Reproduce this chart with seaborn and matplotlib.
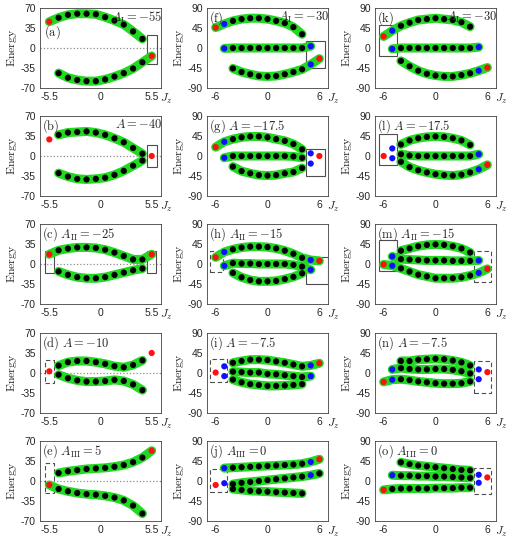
import numpy as np
import pandas as pd
import matplotlib
matplotlib.use('Agg')
import matplotlib.pyplot as plt
import seaborn as sns
from matplotlib.patches import Rectangle

sns.set_style('white')
plt.rcParams['font.family'] = ['Liberation Sans', 'DejaVu Sans']
plt.rcParams['mathtext.fontset'] = 'cm'
plt.rcParams['axes.unicode_minus'] = False

GREEN = '#22d822'
PAL = {'k': 'black', 'r': '#ff1010', 'b': '#1010ff'}

# ---- column 1 (J = 5.5) ----
a_up = [46, 53, 58, 60, 60, 59, 54, 48, 41, 29, 16]
a_lo = [-44, -52, -56, -58, -58, -55, -50, -44, -36, -25, -14]
b_up = [37, 41, 42, 43, 41, 37, 31, 24, 14, 4]
b_lo = [-30, -36, -40, -41, -40, -38, -33, -26, -17, -8]
c_up = [17, 24, 27, 29, 29, 28, 25, 20, 14, 8, 8, 17]
c_lo = [-13, -19, -23, -25, -25, -23, -19, -15, -11, -8]
d_up = [13, 19, 21, 21, 19, 16, 12, 10, 14, 22]
d_lo = [-3, -9, -13, -15, -15, -14, -12, -14, -20, -30]
e_up = [14, 17, 19, 21, 22, 23, 25, 28, 33, 41, 53]
e_lo = [-7, -14, -18, -21, -23, -24, -26, -29, -34, -43, -57]

# ---- column 2 (J = 6) ----
f_up = [46, 54, 61, 65, 67, 67, 65, 61, 56, 47, 31]
f_mid = [-1, 0, 0, 0, 0, 0, 0, 0, 0, 0, 4]
f_lo = [-46, -54, -59, -63, -64, -63, -59, -54, -48, -37, -24]
g_up = [20, 32, 38, 42, 44, 44, 42, 38, 34, 27, 15]
g_mid = [-4, 0, 0, 0, 0, 0, 0, 0, -1, -4]
g_lo = [-24, -34, -39, -43, -44, -43, -39, -36, -27]
h_up = [15, 27, 33, 37, 39, 39, 38, 35, 30, 23, 14, 9, 7]
h_mid = [-4, 2, 1, 1, 0, 0, 0, 0, -2, -6, -13]
h_lo = [-20, -30, -36, -39, -39, -38, -34, -29, -21]
i_up = [23, 27, 30, 30, 29, 26, 23, 19, 15, 17, 22]
i_mid = [3, 2, 1, 1, -2, -3, -5, -7, -9, -7]
i_lo = [-15, -21, -25, -27, -29, -29, -28, -27, -25]
j_up = [29, 30, 31, 32, 33, 34, 35, 36, 37, 39, 43, 49]
j_mid = [-7, -4, -2, 0, 2, 4, 6, 8, 10, 13, 17]
j_lo = [-18, -20, -22, -23, -24, -25, -26, -27, -28]

# ---- column 3 (J = 6) ----
k_up = [26, 39, 50, 57, 63, 65, 67, 65, 63, 58, 48]
k_mid = [-2, 0, 0, 0, 0, 0, 0, 0, 0, 0, 2]
k_lo = [-29, -41, -51, -58, -62, -64, -64, -61, -57, -51, -44]
l_up = [26, 35, 40, 43, 44, 43, 40, 35, 25]
l_mid = [4, 1, 0, 0, 0, 0, 0, 0, 0, 4]
l_lo = [-13, -25, -32, -37, -41, -43, -44, -42, -37, -30, -20]
m_up = [30, 35, 40, 43, 44, 43, 40, 35, 26]
m_mid = [17, 11, 10, 9, 8, 8, 8, 7, 7, 7, 8]
m_lo = [-1, -4, -10, -17, -24, -28, -32, -32, -32, -30, -26, -20, -11]
n_up = [27, 27, 30, 31, 32, 31, 28, 24, 17]
n_mid = [8, 11, 9, 8, 8, 9, 9, 7, 4, -1]
n_lo = [-20, -15, -14, -16, -19, -21, -23, -24, -24, -23, -19]
o_up = [42, 38, 35, 33, 31, 29, 27, 25, 24]
o_mid = [13, 12, 12, 11, 11, 10, 10, 9, 8, 7]
o_lo = [-20, -18, -17, -17, -17, -17, -16, -16, -16, -15, -15]

# panel table: (column, row, bands[(jz0, energies, colours)], loose points, boxes, left text, right text)
DASH = (0, (4, 2.5))
panels = [
    (0, 0, [(-5.5, a_up, 'r' + 'k' * 10), (-4.5, a_lo, 'k' * 10 + 'r')], [],
     [(5.0, -28, 1.05, 50, '-')], '', r'$A_{\rm I}=-55$'),
    (0, 1, [(-4.5, b_up, 'k' * 10), (-4.5, b_lo, 'k' * 10)],
     [(-5.5, 29, 'r'), (5.5, 0, 'r')], [(5.0, -20, 1.05, 40, '-')], r'$\mathrm{(b)}$', r'$A=-40$'),
    (0, 2, [(-5.5, c_up, 'r' + 'k' * 10 + 'r'), (-4.5, c_lo, 'k' * 10)], [],
     [(-6.0, -16, 1.0, 38, '-'), (5.0, -16, 1.0, 38, '-')], r'$\mathrm{(c)}\ A_{\rm II}=-25$', ''),
    (0, 3, [(-4.5, d_up, 'k' * 10), (-4.5, d_lo, 'k' * 10)],
     [(-5.5, 3, 'r'), (5.5, 35, 'r')], [(-6.0, -18, 1.0, 40, DASH)], r'$\mathrm{(d)}\ A=-10$', ''),
    (0, 4, [(-4.5, e_up, 'k' * 10 + 'r'), (-5.5, e_lo, 'r' + 'k' * 10)], [],
     [(-6.0, -21, 1.0, 52, DASH)], r'$\mathrm{(e)}\ A_{\rm III}=5$', ''),
    (1, 0, [(-6, f_up, 'rb' + 'k' * 9), (-5, f_mid, 'b' + 'k' * 9 + 'b'), (-4, f_lo, 'k' * 9 + 'br')], [],
     [(4.5, -44, 2.1, 59, '-')], r'$\mathrm{(f)}$', r'$A_{\rm I}=-30$'),
    (1, 1, [(-6, g_up, 'rb' + 'k' * 9), (-5, g_mid, 'b' + 'k' * 9), (-4, g_lo, 'k' * 9)],
     [(5, 6, 'b'), (5, -17, 'b'), (6, 0, 'r')], [(4.5, -45, 2.2, 60, '-')], r'$\mathrm{(g)}\ A=-17.5$', ''),
    (1, 2, [(-6, h_up, 'rb' + 'k' * 9 + 'br'), (-5, h_mid, 'b' + 'k' * 9 + 'b'), (-4, h_lo, 'k' * 9)], [],
     [(-6.7, -19, 1.6, 49, DASH), (4.5, -44, 2.5, 59, '-')], r'$\mathrm{(h)}\ A_{\rm II}=-15$', ''),
    (1, 3, [(-4, i_up, 'k' * 9 + 'br'), (-4, i_mid, 'k' * 9 + 'b'), (-4, i_lo, 'k' * 9)],
     [(-6, 1, 'r'), (-5, 15, 'b'), (-5, -7, 'b')], [(-6.7, -21, 2.0, 52, DASH)], r'$\mathrm{(i)}\ A=-7.5$', ''),
    (1, 4, [(-5, j_up, 'b' + 'k' * 9 + 'br'), (-4, j_mid, 'k' * 9 + 'b' + 'k'), (-4, j_lo, 'k' * 9)],
     [(-6, -9, 'r'), (-5, -5, 'b')], [(-6.7, -25, 2.0, 52, DASH)], r'$\mathrm{(j)}\ A_{\rm III}=0$', ''),
    (2, 0, [(-6, k_up, 'rb' + 'k' * 9), (-5, k_mid, 'b' + 'k' * 9 + 'b'), (-4, k_lo, 'k' * 9 + 'br')], [],
     [(-6.5, -19, 2.0, 71, '-')], r'$\mathrm{(k)}$', r'$A_{\rm I}=-30$'),
    (2, 1, [(-4, l_up, 'k' * 9), (-4, l_mid, 'k' * 9 + 'b'), (-4, l_lo, 'k' * 9 + 'br')],
     [(-6, 0, 'r'), (-5, 17, 'b'), (-5, -5, 'b')], [(-6.5, -21, 2.0, 70, '-')], r'$\mathrm{(l)}\ A=-17.5$', ''),
    (2, 2, [(-4, m_up, 'k' * 9), (-5, m_mid, 'b' + 'k' * 9 + 'b'), (-6, m_lo, 'rb' + 'k' * 9 + 'br')], [],
     [(-6.5, -15, 2.0, 70, '-'), (4.5, -40, 1.9, 70, DASH)], r'$\mathrm{(m)}\ A_{\rm II}=-15$', ''),
    (2, 3, [(-4, n_up, 'k' * 9), (-5, n_mid, 'b' + 'k' * 9), (-6, n_lo, 'rb' + 'k' * 9)],
     [(5, 8, 'b'), (5, -14, 'b'), (6, 2, 'r')], [(4.5, -44, 1.9, 70, DASH)], r'$\mathrm{(n)}\ A=-7.5$', ''),
    (2, 4, [(-4, o_up, 'k' * 9), (-5, o_mid, 'b' + 'k' * 9), (-6, o_lo, 'r' + 'k' * 10)],
     [(5, 14, 'b'), (5, -4, 'b'), (6, 8, 'r')], [(4.5, -30, 1.9, 60, DASH)], r'$\mathrm{(o)}\ A_{\rm III}=0$', ''),
]

W, H = 509, 541
fig = plt.figure(figsize=(W / 100, H / 100), dpi=100)
lefts = [40, 207, 375]
tops = [8, 116, 224, 333, 441]
aw, ah = 121, 80

for col, row, bands, loose, boxes, ltxt, rtxt in panels:
    ax = fig.add_axes([lefts[col] / W, 1 - (tops[row] + ah) / H, aw / W, ah / H])
    for j0, e, c in bands:
        df = pd.DataFrame({'Jz': j0 + np.arange(len(e)), 'E': e, 'c': list(c)})
        sns.lineplot(data=df, x='Jz', y='E', ax=ax, color=GREEN, lw=6.5, sort=False,
                     estimator=None, solid_capstyle='round', zorder=2, legend=False)
        sns.scatterplot(data=df, x='Jz', y='E', hue='c', palette=PAL, ax=ax, s=20,
                        linewidth=0, zorder=3, legend=False)
    if loose:
        dl = pd.DataFrame(loose, columns=['Jz', 'E', 'c'])
        sns.scatterplot(data=dl, x='Jz', y='E', hue='c', palette=PAL, ax=ax, s=20,
                        linewidth=0, zorder=3, legend=False)
    for x0, y0, w, h, ls in boxes:
        ax.add_patch(Rectangle((x0, y0), w, h, fill=False, ec='0.3', lw=0.8, ls=ls, zorder=1.5))

    if col == 0:
        ax.set_xlim(-6.5, 6.5)
        ax.set_ylim(-70, 70)
        ax.set_xticks([-5.5, 0, 5.5])
        ax.set_xticklabels(['-5.5', '0', '5.5'])
        ax.set_yticks([70, 35, 0, -35, -70])
        ax.axhline(0, color='0.55', ls=':', lw=0.9, zorder=1)
    else:
        ax.set_xlim(-7, 7)
        ax.set_ylim(-90, 90)
        ax.set_xticks([-6, 0, 6])
        ax.set_yticks([90, 45, 0, -45, -90])

    ax.tick_params(direction='in', length=2.5, width=0.6, labelsize=7.5, pad=3, colors='0.15')
    for s in ax.spines.values():
        s.set_linewidth(0.6)
        s.set_color('0.25')
    ax.set_xlabel('')
    ax.set_ylabel(r'$\mathrm{Energy}$', fontsize=8.5, va='center')
    ax.yaxis.set_label_coords(-0.23, 0.5)
    ax.text(0.995, -0.05, r'$J_z$', transform=ax.transAxes, ha='left', va='top', fontsize=8.5)

    if col == 0 and row == 0:
        ax.text(0.03, 0.70, r'$\mathrm{(a)}$', transform=ax.transAxes, ha='left', va='center', fontsize=9)
    if ltxt:
        ax.text(0.02, 0.98, ltxt, transform=ax.transAxes, ha='left', va='top', fontsize=9)
    if rtxt:
        ax.text(1.01, 0.98, rtxt, transform=ax.transAxes, ha='right', va='top', fontsize=9)

fig.savefig('out.png', dpi=100)
